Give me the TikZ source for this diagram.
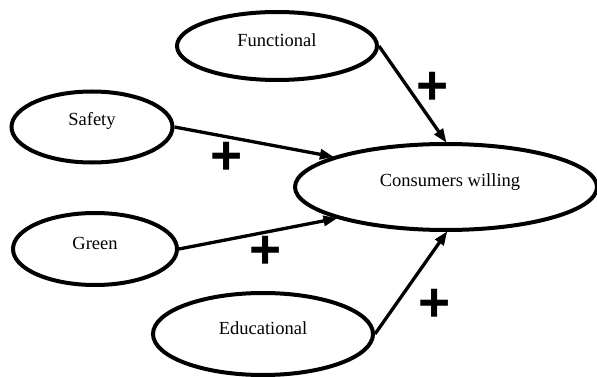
\documentclass[tikz,border=0pt]{standalone}
\usepackage{fontspec}
\setmainfont{Liberation Serif}
\newfontfamily\plusfont{Liberation Sans}
\usetikzlibrary{shapes.geometric,arrows.meta}
\begin{document}
\begin{tikzpicture}[x=1pt,y=-1pt,
  oval/.style={ellipse, draw=black, line width=4pt, inner sep=0pt},
  lbl/.style={font=\fontsize{18.5}{22}\selectfont, inner sep=0pt},
  sgn/.style={font=\plusfont\bfseries\fontsize{55}{55}\selectfont, inner sep=0pt},
  link/.style={line width=3.3pt, -{Triangle[length=14pt,width=10pt]}, shorten >=-1pt}]
\useasboundingbox (0,0) rectangle (597,377);
\node[oval, minimum width=200pt, minimum height=68pt] (func) at (277,46) {};
\node[oval, minimum width=161pt, minimum height=71pt] (safe) at (92,127) {};
\node[oval, minimum width=164pt, minimum height=72pt] (green) at (95,249) {};
\node[oval, minimum width=302pt, minimum height=86pt] (cons) at (446,187) {};
\node[oval, minimum width=220pt, minimum height=82pt] (edu) at (263,334) {};
\node[lbl] (funct) at (277,40) {Functional};
\node[lbl] (safet) at (92,121) {Safety};
\node[lbl] (greent) at (95,243) {Green};
\node[lbl] (const) at (450,182) {Consumers willing};
\node[lbl] (edut) at (263,328) {Educational};
\draw[link] (func.east) -- (cons.north);
\draw[link] (safe.east) -- (cons.165);
\draw[link] (green.east) -- (cons.196);
\draw[link] (edu.east) -- (cons.-89);
\node[sgn] (p1) at (433,88) {+};
\node[sgn] (p2) at (227,158) {+};
\node[sgn] (p3) at (266,252) {+};
\node[sgn] (p4) at (435,305) {+};
\end{tikzpicture}
\end{document}
